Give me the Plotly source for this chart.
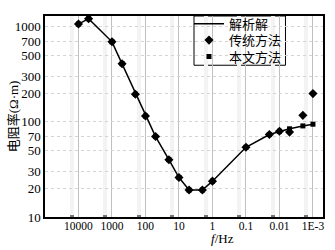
import plotly.graph_objects as go

freq = [10000, 5000, 1000, 500, 200, 100, 50, 20, 10, 5, 2, 1, 0.1, 0.02, 0.01, 0.005, 0.002, 0.001]
analytic = [1065, 1213, 693, 408, 195, 115, 70, 40, 26, 19.2, 19.2, 23.8, 54, 73.5, 79.5, 84.5, 90.6, 94.4]
traditional = [1065, 1213, 693, 408, 195, 115, 70, 40, 26, 19.2, 19.2, 23.8, 54, 73.5, 79.5, 78, 117, 198]
proposed = [1065, 1213, 693, 408, 195, 115, 70, 40, 26, 19.2, 19.2, 23.8, 54, 73.5, 79.5, 84.5, 90.6, 94.4]

x_tickvals = [10000, 1000, 100, 10, 1, 0.1, 0.01, 0.001]
x_ticktext = ["10000", "1000", "100", "10", "1", "0.1", "0.01", "1E-3"]
y_tickvals = [10, 20, 30, 50, 70, 100, 200, 300, 500, 700, 1000]
x_minor = [1.6e4, 1.6e3, 1.6e2, 16, 1.6, 0.16, 0.016, 0.0016]

NUMFONT = "Liberation Serif, serif"
CJKFONT = "Liberation Serif, Noto Sans CJK SC, serif"

fig = go.Figure()
fig.add_trace(go.Scatter(x=freq, y=analytic, mode="lines", name="解析解",
                         line=dict(color="black", width=1.5), legend="legend"))
fig.add_trace(go.Scatter(x=freq, y=traditional, mode="markers", name="传统方法",
                         marker=dict(symbol="diamond", size=7, color="black"), legend="legend2"))
fig.add_trace(go.Scatter(x=freq, y=proposed, mode="markers", name="本文方法",
                         marker=dict(symbol="square", size=5, color="black"), legend="legend3"))

leg_common = dict(x=0.518, xanchor="left", yanchor="middle", borderwidth=0,
                  bgcolor="rgba(0,0,0,0)", font=dict(size=13, family=CJKFONT),
                  itemwidth=30)

fig.update_layout(
    width=335, height=250,
    margin=dict(l=45, r=12, t=9, b=33),
    paper_bgcolor="white", plot_bgcolor="white",
    font=dict(family=CJKFONT, color="black", size=12),
    showlegend=True,
    legend=dict(y=0.9615, **leg_common),
    legend2=dict(y=0.8798, **leg_common),
    legend3=dict(y=0.798, **leg_common),
    shapes=[dict(type="rect", xref="paper", yref="paper",
                 x0=0.536, x1=0.865, y0=0.755, y1=1.0,
                 line=dict(color="black", width=1), fillcolor="white",
                 layer="between")],
)
fig.update_xaxes(
    type="log", range=[5, -3.3], automargin=False,
    tickvals=x_tickvals, ticktext=x_ticktext,
    tickfont=dict(size=11.5, family=NUMFONT), ticklabelstandoff=-3,
    showgrid=True, gridcolor="#c0c0c0", gridwidth=1,
    showline=True, linecolor="black", linewidth=1.5, mirror=True,
    ticks="", zeroline=False,
    minor=dict(tickvals=x_minor, ticks="inside", ticklen=2, tickwidth=4,
               tickcolor="#777", showgrid=True, gridcolor="#f3f3f3", gridwidth=4),
)
fig.update_yaxes(
    type="log", range=[1, 3.112], automargin=False,
    tickvals=y_tickvals, ticktext=[str(v) for v in y_tickvals],
    tickfont=dict(size=13, family=NUMFONT),
    showgrid=True, gridcolor="#d4d4d4", gridwidth=1, griddash="dot",
    showline=True, linecolor="black", linewidth=1.5, mirror=True,
    ticks="", zeroline=False,
)
fig.add_annotation(text="电阻率(Ω·m)", xref="paper", yref="paper", x=-0.112, y=0.5,
                   textangle=-90, showarrow=False, xanchor="center", yanchor="middle",
                   font=dict(size=13, family=CJKFONT))
fig.add_annotation(text="<i>f</i>/Hz", xref="paper", yref="paper", x=0.637, y=-0.105,
                   showarrow=False, xanchor="center", yanchor="middle",
                   font=dict(size=13, family=NUMFONT))

fig.write_html("out.html", config={"displayModeBar": False},
               post_script="document.body.style.margin='0';document.body.style.padding='0';")
